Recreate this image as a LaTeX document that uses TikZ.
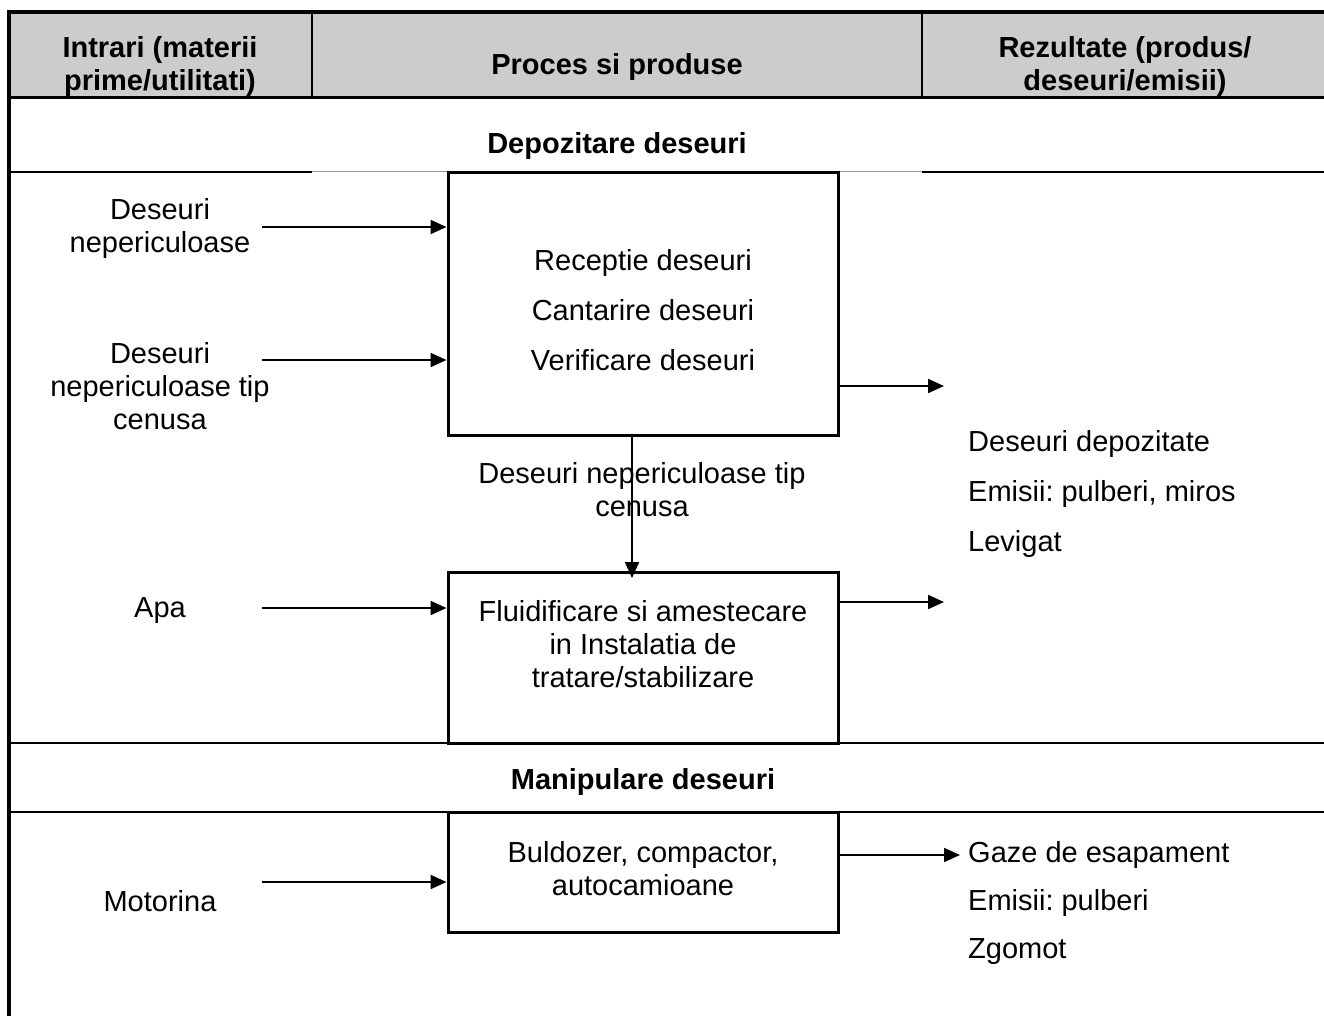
\documentclass[tikz,border=0pt]{standalone}
\usepackage{fontspec}
\setmainfont{Liberation Sans}
\usepackage{xcolor}
\usepackage{tikz}
\usetikzlibrary{arrows.meta}
\frenchspacing
\definecolor{ink}{HTML}{000000}
\definecolor{headgray}{HTML}{CCCCCC}
\definecolor{faint}{HTML}{9A9A9A}
\tikzset{
  frame/.style={draw=ink, line width=4pt},
  rule/.style={draw=ink, line width=2pt},
  thinrule/.style={draw=ink, line width=1.5pt},
  procbox/.style={draw=ink, line width=3pt, minimum width=390pt, inner sep=0pt},
  flow/.style={draw=ink, line width=2pt, -{Triangle[length=16pt,width=14pt]}},
  lab/.style={text=ink, font=\fontsize{29}{33}\selectfont, align=center, inner sep=0pt, yshift=-3pt},
  labb/.style={lab, font=\bfseries\fontsize{29}{33}\selectfont},
  list/.style={text=ink, font=\fontsize{29}{50}\selectfont, align=left, anchor=west, inner sep=0pt, yshift=-3pt},
}
\begin{document}
\begin{tikzpicture}[x=1pt, y=-1pt]
  \useasboundingbox (0,0) rectangle (1324,1016);
  \fill[headgray] (9,12) rectangle (1324,98);
  \draw[thinrule] (312,12) -- (312,98);
  \draw[thinrule] (922,12) -- (922,98);
  \draw[draw=ink, line width=3pt] (9,98) -- (1324,98);
  \draw[frame] (7,12) -- (1324,12);
  \draw[frame] (9,10) -- (9,1016);
  \node[labb] (hin) at (160,63.5) {Intrari (materii\\prime/utilitati)};
  \node[labb] (hproc) at (617,64) {Proces si produse};
  \node[labb] (hout) at (1125,63.5) {Rezultate (produs/\\deseuri/emisii)};
  \draw[rule] (9,172) -- (312,172);
  \draw[draw=faint, line width=1pt] (312,172) -- (922,172);
  \draw[rule] (922,172) -- (1324,172);
  \draw[rule] (9,743) -- (1324,743);
  \draw[rule] (9,812) -- (1324,812);
  \node[labb] (secdep) at (617,143) {Depozitare deseuri};
  \node[labb] (secman) at (643,779) {Manipulare deseuri};
  \node[procbox, minimum height=262pt] (recv) at (643,304) {};
  \node[lab, font=\fontsize{29}{50}\selectfont] (recvtxt) at (643,307)
    {Receptie deseuri\\Cantarire deseuri\\Verificare deseuri};
  \node[procbox, minimum height=171pt] (fluid) at (643,657.5) {};
  \node[lab] (fluidtxt) at (643,641.5) {Fluidificare si amestecare\\in Instalatia de\\tratare/stabilizare};
  \node[procbox, minimum height=120pt] (mach) at (643,872) {};
  \node[lab] (machtxt) at (643,865.5) {Buldozer, compactor,\\autocamioane};
  \node[lab] (in1) at (160,225.5) {Deseuri\\nepericuloase};
  \node[lab] (in2) at (160,383) {Deseuri\\nepericuloase tip\\cenusa};
  \node[lab] (apa) at (160,608) {Apa};
  \node[lab] (moto) at (160,898) {Motorina};
  \coordinate (in1s) at (262,227);
  \coordinate (in2s) at (262,360);
  \coordinate (apas) at (262,608);
  \coordinate (motos) at (262,882);
  \draw[flow] (in1s) -- (recv.west |- in1s);
  \draw[flow] (in2s) -- (recv.west |- in2s);
  \draw[flow] (apas) -- (fluid.west |- apas);
  \draw[flow] (motos) -- (mach.west |- motos);
  \coordinate (cenusae) at (632,578);
  \draw[flow] (recv.south -| cenusae) -- (cenusae);
  \node[lab] (cenusa) at (642,487) {Deseuri nepericuloase tip\\cenusa};
  \node[list] (outdep) at (968,491) {Deseuri depozitate\\Emisii: pulberi, miros\\Levigat};
  \coordinate (out1e) at (944,386);
  \coordinate (out2e) at (944,602);
  \draw[flow] (recv.east |- out1e) -- (out1e);
  \draw[flow] (fluid.east |- out2e) -- (out2e);
  \node[list] (gaze) at (968,852) {Gaze de esapament};
  \node[list] (pulb) at (968,900) {Emisii: pulberi};
  \node[list] (zgom) at (968,949) {Zgomot};
  \draw[flow, shorten >=8pt] (mach.east |- gaze) -- (gaze.west);
\end{tikzpicture}
\end{document}
